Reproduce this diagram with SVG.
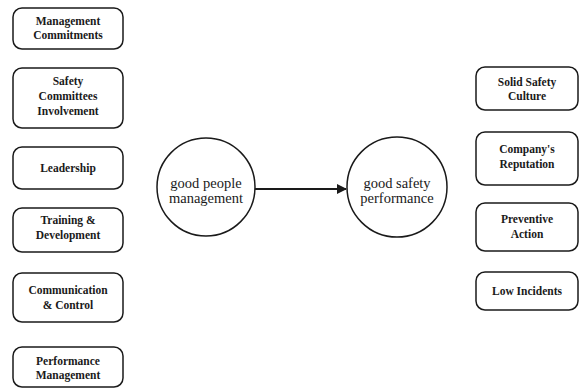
<svg xmlns="http://www.w3.org/2000/svg" width="582" height="390" viewBox="0 0 582 390">
<style>
.box{fill:#fff;stroke:#1a1a1a;stroke-width:1.5}
.bt{font-weight:bold;font-size:11.5px;fill:#1a1a1a;text-anchor:middle}
.circ{fill:#fff;stroke:#1a1a1a;stroke-width:1.5}
.ct{font-size:14.5px;fill:#1a1a1a;text-anchor:middle}
.conn{stroke:#1a1a1a;stroke-width:2;fill:none}
</style>
<defs>
<marker id="ah" viewBox="0 0 10 10" refX="9" refY="5" markerWidth="5" markerHeight="5" orient="auto" markerUnits="strokeWidth">
<path d="M0,0 L10,5 L0,10 z" fill="#1a1a1a"/>
</marker>
</defs>
<rect width="582" height="390" fill="#fff"/>
<g font-family="Liberation Serif, DejaVu Serif, serif">
<g id="n1"><rect class="box" x="13" y="8" width="110" height="41" rx="9"/><text class="bt" x="68" y="25">Management</text><text class="bt" x="68" y="39">Commitments</text></g>
<g id="n2"><rect class="box" x="13" y="68" width="110" height="60" rx="9"/><text class="bt" x="68" y="85">Safety</text><text class="bt" x="68" y="100">Committees</text><text class="bt" x="68" y="115">Involvement</text></g>
<g id="n3"><rect class="box" x="13" y="147" width="110" height="42" rx="9"/><text class="bt" x="68" y="172">Leadership</text></g>
<g id="n4"><rect class="box" x="13" y="208" width="110" height="44" rx="9"/><text class="bt" x="68" y="224">Training &amp;</text><text class="bt" x="68" y="239">Development</text></g>
<g id="n5"><rect class="box" x="13" y="273" width="110" height="49" rx="9"/><text class="bt" x="68" y="294">Communication</text><text class="bt" x="68" y="309">&amp; Control</text></g>
<g id="n6"><rect class="box" x="13" y="347" width="110" height="40" rx="9"/><text class="bt" x="68" y="365">Performance</text><text class="bt" x="68" y="379">Management</text></g>
<g id="c1"><circle class="circ" cx="206" cy="187" r="49"/><text class="ct" x="206" y="188">good people</text><text class="ct" x="206" y="203">management</text></g>
<g id="c2"><circle class="circ" cx="397" cy="187" r="50"/><text class="ct" x="397" y="188">good safety</text><text class="ct" x="397" y="203">performance</text></g>
<g id="r1"><rect class="box" x="476" y="67" width="102" height="43" rx="9"/><text class="bt" x="527" y="86">Solid Safety</text><text class="bt" x="527" y="100">Culture</text></g>
<g id="r2"><rect class="box" x="476" y="132" width="102" height="53" rx="9"/><text class="bt" x="527" y="153">Company's</text><text class="bt" x="527" y="168">Reputation</text></g>
<g id="r3"><rect class="box" x="476" y="203" width="102" height="48" rx="9"/><text class="bt" x="527" y="223">Preventive</text><text class="bt" x="527" y="238">Action</text></g>
<g id="r4"><rect class="box" x="476" y="272" width="102" height="38" rx="9"/><text class="bt" x="527" y="295">Low Incidents</text></g>
</g>
<g id="connectors"><line class="conn" x1="255" y1="189" x2="346" y2="189" marker-end="url(#ah)"/></g>
</svg>
